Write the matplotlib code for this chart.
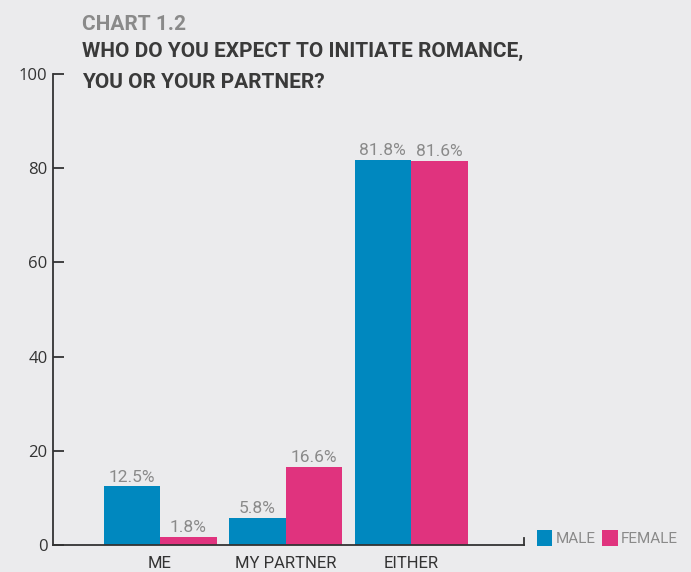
import matplotlib
matplotlib.use("Agg")
import matplotlib.pyplot as plt
import numpy as np

categories = ["ME", "MY PARTNER", "EITHER"]
male = [12.5, 5.8, 81.8]
female = [1.8, 16.6, 81.6]
series_names = ["MALE", "FEMALE"]
yticks = [0, 20, 40, 60, 80, 100]

bg = "#ebebed"
blue = "#0088bf"
pink = "#e0337e"
narrow = ["Roboto", "DejaVu Sans"]

fig = plt.figure(figsize=(6.91, 5.72), dpi=100, facecolor=bg)
ax = fig.add_axes([53 / 691, 1 - 545 / 572, (524 - 53) / 691, (545 - 74) / 572])
ax.set_facecolor(bg)

x = np.arange(len(categories))
w = 0.45
b1 = ax.bar(x - w / 2, male, w, color=blue, label=series_names[0])
b2 = ax.bar(x + w / 2, female, w, color=pink, label=series_names[1])
for bars in (b1, b2):
    labs = ax.bar_label(bars, labels=["%.1f%%" % v for v in bars.datavalues],
                        padding=1, color="#8a8a8a", fontsize=12.5)
    for t in labs:
        t.set_family(narrow)

ax.set_xlim(-0.853, 2.9)
ax.set_ylim(0, 100)
ax.set_yticks(yticks)
ax.set_yticklabels([str(v) for v in yticks], family="Open Sans", fontsize=12, color="#333333")
ax.tick_params(axis="y", direction="in", length=8, width=1.3, color="#333333", pad=4)
ax.set_xticks(x)
ax.set_xticklabels(categories, family=narrow, fontsize=12, color="#333333")
ax.tick_params(axis="x", length=0, pad=8)

ax.spines["top"].set_visible(False)
ax.spines["right"].set_bounds(0, 1.5)
for s in ["left", "bottom", "right"]:
    ax.spines[s].set_color("#333333")
    ax.spines[s].set_linewidth(1.3)

leg = ax.legend(loc="lower left", bbox_to_anchor=(1.028, -0.002), ncol=2, frameon=False,
                handlelength=1.0, handleheight=1.2, handletextpad=0.2, columnspacing=0.45,
                borderaxespad=0, borderpad=0, prop={"family": narrow, "size": 11})
for t in leg.get_texts():
    t.set_color("#8a8a8a")

fig.text(82 / 691, 1 - 30 / 572, "CHART 1.2", family=narrow, weight="bold",
         fontsize=15, color="#8a8a8a")
fig.text(82 / 691, 1 - 57 / 572, "WHO DO YOU EXPECT TO INITIATE ROMANCE,", family=narrow,
         weight="bold", fontsize=15, color="#3a3a3a")
fig.text(82 / 691, 1 - 88 / 572, "YOU OR YOUR PARTNER?", family=narrow,
         weight="bold", fontsize=15, color="#3a3a3a")

fig.savefig("out.png", dpi=100, facecolor=bg)
